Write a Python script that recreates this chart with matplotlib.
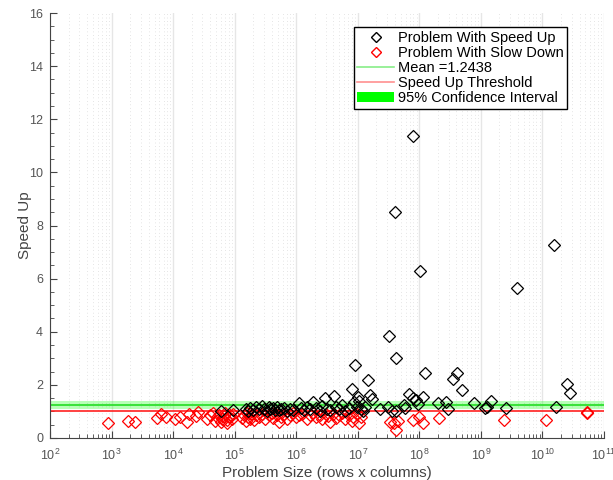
import matplotlib
matplotlib.use("Agg")
import matplotlib.pyplot as plt
import matplotlib.ticker as mticker
from matplotlib.patches import Patch
from matplotlib.lines import Line2D
import numpy as np

# problems that got faster: log10(problem size), speed up
fast_logx = [4.78, 4.98, 5.18, 5.22, 5.25, 5.30, 5.35, 5.40, 5.44, 5.47, 5.52, 5.55,
             5.58, 5.62, 5.65, 5.68, 5.72, 5.76, 5.80, 5.85, 5.90, 5.95, 6.05, 6.08,
             6.12, 6.18, 6.22, 6.28, 6.32, 6.38, 6.42, 6.46, 6.50, 6.55, 6.62, 6.65,
             6.70, 6.75, 6.80, 6.85, 6.90, 6.94, 6.96, 6.98, 7.00, 7.02, 7.05, 7.08,
             7.12, 7.17, 7.20, 7.23, 7.36, 7.49, 7.51, 7.55, 7.60, 7.62, 7.62, 7.75,
             7.77, 7.83, 7.89, 7.89, 7.94, 7.98, 8.01, 8.06, 8.10, 8.30, 8.43, 8.46,
             8.54, 8.62, 8.70, 8.88, 9.06, 9.10, 9.16, 9.41, 9.58, 10.19, 10.22,
             10.40, 10.45]
fast_y = [1.02, 1.05, 1.09, 1.03, 1.12, 1.05, 1.15, 1.08, 1.20, 1.10, 1.02, 1.15,
          1.08, 1.12, 1.04, 1.18, 1.06, 1.09, 1.14, 1.03, 1.10, 1.05, 1.32, 1.12,
          1.05, 1.18, 1.08, 1.36, 1.12, 1.02, 1.20, 1.50, 1.10, 1.05, 1.58, 1.15,
          1.08, 1.25, 1.03, 1.12, 1.85, 1.36, 2.75, 1.18, 1.55, 1.40, 1.08, 1.02,
          1.15, 2.20, 1.62, 1.46, 1.10, 1.17, 3.85, 1.00, 8.50, 3.00, 1.02, 1.25,
          1.13, 1.65, 11.36, 1.50, 1.43, 1.28, 6.30, 1.55, 2.46, 1.32, 1.36, 1.10,
          2.22, 2.45, 1.80, 1.32, 1.13, 1.17, 1.40, 1.13, 5.66, 7.28, 1.17,
          2.04, 1.70]

# problems that got slower
slow_logx = [2.94, 3.27, 3.38, 3.74, 3.80, 3.88, 4.03, 4.12, 4.25, 4.22, 4.37, 4.40,
             4.55, 4.60, 4.64, 4.68, 4.72, 4.75, 4.78, 4.80, 4.82, 4.85, 4.87, 4.88,
             4.90, 4.93, 4.95, 4.98, 5.12, 5.15, 5.18, 5.20, 5.22, 5.25, 5.28, 5.32,
             5.35, 5.40, 5.45, 5.50, 5.55, 5.60, 5.62, 5.68, 5.72, 5.75, 5.80, 5.85,
             5.90, 5.95, 6.00, 6.05, 6.10, 6.18, 6.22, 6.28, 6.32, 6.38, 6.42, 6.48,
             6.52, 6.55, 6.60, 6.65, 6.70, 6.75, 6.80, 6.85, 6.90, 6.93, 6.98, 7.02,
             7.05, 7.52, 7.59, 7.65, 7.62, 7.90, 8.00, 8.06, 8.32, 9.38, 10.05,
             10.72, 10.72]
slow_y = [0.55, 0.65, 0.62, 0.75, 0.92, 0.80, 0.70, 0.78, 0.92, 0.62, 0.82, 0.98,
          0.72, 0.85, 0.95, 0.65, 0.78, 0.88, 0.60, 0.72, 0.82, 0.93, 0.68, 0.55,
          0.78, 0.88, 0.70, 0.92, 0.75, 0.88, 0.65, 0.95, 0.80, 0.72, 0.90, 0.68,
          0.85, 0.78, 0.92, 0.70, 0.85, 0.95, 0.75, 0.88, 0.62, 0.80, 0.92, 0.72,
          0.85, 0.95, 0.78, 0.88, 0.92, 0.72, 0.85, 0.95, 0.78, 0.88, 0.70, 0.92,
          0.82, 0.62, 0.90, 0.75, 0.85, 0.95, 0.72, 0.88, 0.65, 0.80, 0.92, 0.58,
          0.78, 0.62, 0.57, 0.65, 0.30, 0.68, 0.80, 0.57, 0.75, 0.68, 0.68,
          0.98, 0.93]

mean_speedup = 1.2438
ci_low, ci_high = 1.10, 1.39
threshold = 1.0


def main():
    plt.rcParams['font.family'] = ['Liberation Sans', 'DejaVu Sans']
    fig = plt.figure(figsize=(6.13, 4.80), dpi=100)
    ax = fig.add_axes([50 / 613, 1 - 438 / 480, 554 / 613, 425 / 480])

    fx = 10 ** np.array(fast_logx)
    sx = 10 ** np.array(slow_logx)

    ax.axhspan(ci_low, ci_high, color='#00ff00', alpha=0.28, lw=0, zorder=1)
    ax.axhline(mean_speedup, color='#22dd22', lw=1.2, zorder=2)
    ax.axhline(threshold, color='#ff2020', lw=1.2, zorder=2)

    ax.plot(sx, slow_y, 'D', mfc='none', mec='red', ms=6.5, mew=0.9, zorder=3)
    ax.plot(fx, fast_y, 'D', mfc='none', mec='black', ms=6.5, mew=0.9, zorder=4)

    ax.set_xscale('log')
    ax.set_xlim(1e2, 1e11)
    ax.set_ylim(0, 16)
    ax.xaxis.set_major_locator(mticker.LogLocator(base=10, numticks=20))
    ax.xaxis.set_minor_locator(mticker.LogLocator(base=10, subs=np.arange(2, 10), numticks=20))
    ax.xaxis.set_minor_formatter(mticker.NullFormatter())
    ax.yaxis.set_major_locator(mticker.MultipleLocator(2))
    ax.yaxis.set_minor_locator(mticker.MultipleLocator(0.5))

    ax.grid(True, which='major', axis='x', color='#e6e6e6', lw=1.0, ls='-')
    ax.grid(True, which='minor', axis='x', color='#cccccc', lw=0.5, ls=(0, (1, 4)))
    ax.set_axisbelow(True)

    for side in ['top', 'right']:
        ax.spines[side].set_visible(False)
    for side in ['left', 'bottom']:
        ax.spines[side].set_color('#444444')
    ax.tick_params(which='both', direction='in', colors='#444444', labelcolor='#555555',
                   labelsize=9)
    ax.tick_params(which='major', length=5)
    ax.tick_params(which='minor', length=3)
    ax.tick_params(axis='x', pad=7)
    ax.tick_params(axis='y', pad=5)

    ax.set_xlabel('Problem Size (rows x columns)', fontsize=11, color='#444444', labelpad=2)
    ax.set_ylabel('Speed Up', fontsize=11, color='#444444', labelpad=-2)

    handles = [
        Line2D([], [], ls='none', marker='D', mfc='none', mec='black', ms=5),
        Line2D([], [], ls='none', marker='D', mfc='none', mec='red', ms=5),
        Line2D([], [], color='#88ee88', lw=1.2),
        Line2D([], [], color='#ff9090', lw=1.2),
        Patch(facecolor='#00ff00', edgecolor='none'),
    ]
    labels = ['Problem With Speed Up', 'Problem With Slow Down', 'Mean =1.2438',
              'Speed Up Threshold', '95% Confidence Interval']
    leg = ax.legend(handles, labels, loc='upper right',
                    bbox_to_anchor=(567 / 613, 1 - 27 / 480),
                    bbox_transform=fig.transFigure, fontsize=10.5, fancybox=False,
                    framealpha=1, edgecolor='black', borderaxespad=0,
                    handlelength=2.5, handletextpad=0.25, labelspacing=0.08,
                    borderpad=0.25)
    leg.get_frame().set_linewidth(1.0)

    fig.savefig('out.png', dpi=100)


if __name__ == '__main__':
    main()
